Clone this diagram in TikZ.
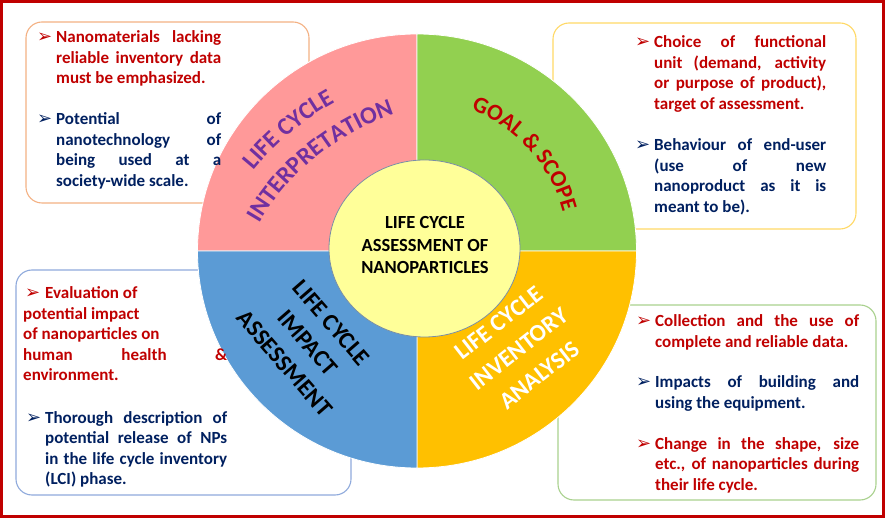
\documentclass[tikz,border=0pt]{standalone}
\usepackage{fontspec}
\setmainfont{Carlito}
\newfontfamily\dejavu{DejaVu Sans}
\usetikzlibrary{decorations.text,calc}
\definecolor{cpink}{HTML}{FF9999}
\definecolor{cgreen}{HTML}{92D050}
\definecolor{cblue}{HTML}{5B9BD5}
\definecolor{corange}{HTML}{FFC000}
\definecolor{cyellow}{HTML}{FFFF99}
\definecolor{cpurple}{HTML}{7030A0}
\definecolor{cred}{HTML}{C00000}
\definecolor{cnavy}{HTML}{002060}
\definecolor{borange}{HTML}{F4B183}
\definecolor{bgold}{HTML}{FFD966}
\definecolor{bblue}{HTML}{8FAADC}
\definecolor{bgreen}{HTML}{A9D18E}
\definecolor{ringline}{HTML}{7A8FA6}
\newcommand\bulglyph{{\dejavu\fontsize{18}{18}\selectfont ➢}}
\newcommand\bul{\makebox[19pt][l]{\bulglyph}}
\tikzset{
  infobox/.style={draw=#1, line width=1.1pt, rounded corners=16pt, fill=white, inner sep=0pt},
  para/.style={anchor=base west, inner sep=0pt, align=justify, text width=#1,
    font=\bfseries\fontsize{17}{20.5}\selectfont,
    execute at begin node={\tolerance=10000\hyphenpenalty=10000\exhyphenpenalty=10000}},
  quad/.style={fill=#1, draw=white, line width=0.8pt},
  bigtext/.style={align=center, inner sep=0pt, font=\bfseries\fontsize{24}{31}\selectfont},
}
\begin{document}
\begin{tikzpicture}[x=1pt,y=1pt]
\useasboundingbox (0,0) rectangle (886,-518);
\fill[white] (0,0) rectangle (886,-518);
% outer frame
\draw[cred, line width=2.7pt] (1.35,-1.35) rectangle (883.5,-516.3);
% info boxes
\node[infobox=borange, minimum width=283, minimum height=181] (b1) at (167.5,-112.5) {};
\node[infobox=bgold, minimum width=303, minimum height=206] (b2) at (704.5,-126) {};
\node[infobox=bblue, minimum width=335, minimum height=225] (b3) at (183.5,-382.5) {};
\node[infobox=bgreen, minimum width=318, minimum height=195] (b4) at (717,-402.5) {};
% ring
\coordinate (C) at (417,-251);
\filldraw[quad=cpink] (C) -- ++(-219.5,0) arc[start angle=180, end angle=90, x radius=219.5, y radius=217] -- cycle;
\filldraw[quad=cgreen] (C) -- ++(0,217) arc[start angle=90, end angle=0, x radius=219.5, y radius=217] -- cycle;
\filldraw[quad=corange] (C) -- ++(219.5,0) arc[start angle=0, end angle=-90, x radius=219.5, y radius=217] -- cycle;
\filldraw[quad=cblue] (C) -- ++(0,-217) arc[start angle=-90, end angle=-180, x radius=219.5, y radius=217] -- cycle;
% curved labels
\coordinate (P1) at (471,-347);
\path[decorate, decoration={text along path, text align=center, text color=cpurple,
  text={|\bfseries\fontsize{24.5}{24.5}\selectfont|LIFE CYCLE}}]
  ($(P1)+(175:280)$) arc[start angle=175, end angle=85, radius=280];
\path[decorate, decoration={text along path, text align=center, text color=cpurple,
  text={|\bfseries\fontsize{24.5}{24.5}\selectfont|INTERPRETATION}}]
  ($(P1)+(174:245)$) arc[start angle=174, end angle=84, radius=245];
\path[decorate, decoration={text along path, text align=center, text color=cred,
  text={|\bfseries\fontsize{23}{23}\selectfont|GOAL {\&} SCOPE}}]
  ($(C)+(102:151)$) arc[start angle=102, end angle=-18, radius=151];
% straight labels
\node[bigtext, rotate=-49] (lcia) at (308,-343) {LIFE CYCLE\\IMPACT\\ASSESSMENT};
\node[bigtext, rotate=38, text=white, font=\bfseries\fontsize{24}{33}\selectfont] (lcin) at (519,-349) {LIFE CYCLE\\INVENTORY\\ANALYSIS};
% inner circle
\filldraw[fill=cyellow, draw=ringline, line width=0.8pt] (424.5,-248.5) ellipse[x radius=95.5, y radius=88.5];
\node[align=center, inner sep=0pt, font=\bfseries\fontsize{18.5}{22.5}\selectfont] (lca) at (425,-245) {LIFE CYCLE\\ASSESSMENT OF\\NANOPARTICLES};
% box texts
\node[para=165, text=cred] (t1a) at (56,-43) {\noindent\llap{\bul}Nanomaterials lacking\linebreak reliable inventory data\linebreak must be emphasized.};
\node[para=165, text=cnavy] (t1b) at (56,-125) {\noindent\llap{\bul}Potential of\linebreak nanotechnology of\linebreak being used at a\linebreak society-wide scale.};
\node[para=172, text=cred] (t2a) at (654,-48) {\noindent\llap{\bul}Choice of functional\linebreak unit (demand, activity\linebreak or purpose of product),\linebreak target of assessment.};
\node[para=172, text=cnavy] (t2b) at (654,-151) {\noindent\llap{\bul}Behaviour of end-user\linebreak (use of new\linebreak nanoproduct as it is\linebreak meant to be).};
\node[para=204, text=cred] (t3a) at (23,-299) {\noindent\hspace*{2pt}\makebox[20pt][l]{\bulglyph}Evaluation of\\potential impact\\of nanoparticles on\\human health \&\linebreak environment.};
\node[para=182, text=cnavy] (t3b) at (45,-423) {\noindent\llap{\bul}Thorough description of\linebreak potential release of NPs\linebreak in the life cycle inventory\linebreak (LCI) phase.};
\node[para=204, text=cred] (t4a) at (655,-327) {\noindent\llap{\bul}Collection and the use of\linebreak complete and reliable data.};
\node[para=204, text=cnavy] (t4b) at (655,-388) {\noindent\llap{\bul}Impacts of building and\linebreak using the equipment.};
\node[para=204, text=cred] (t4c) at (655,-449) {\noindent\llap{\bul}Change in the shape, size\linebreak etc., of nanoparticles during\linebreak their life cycle.};
\end{tikzpicture}
\end{document}
